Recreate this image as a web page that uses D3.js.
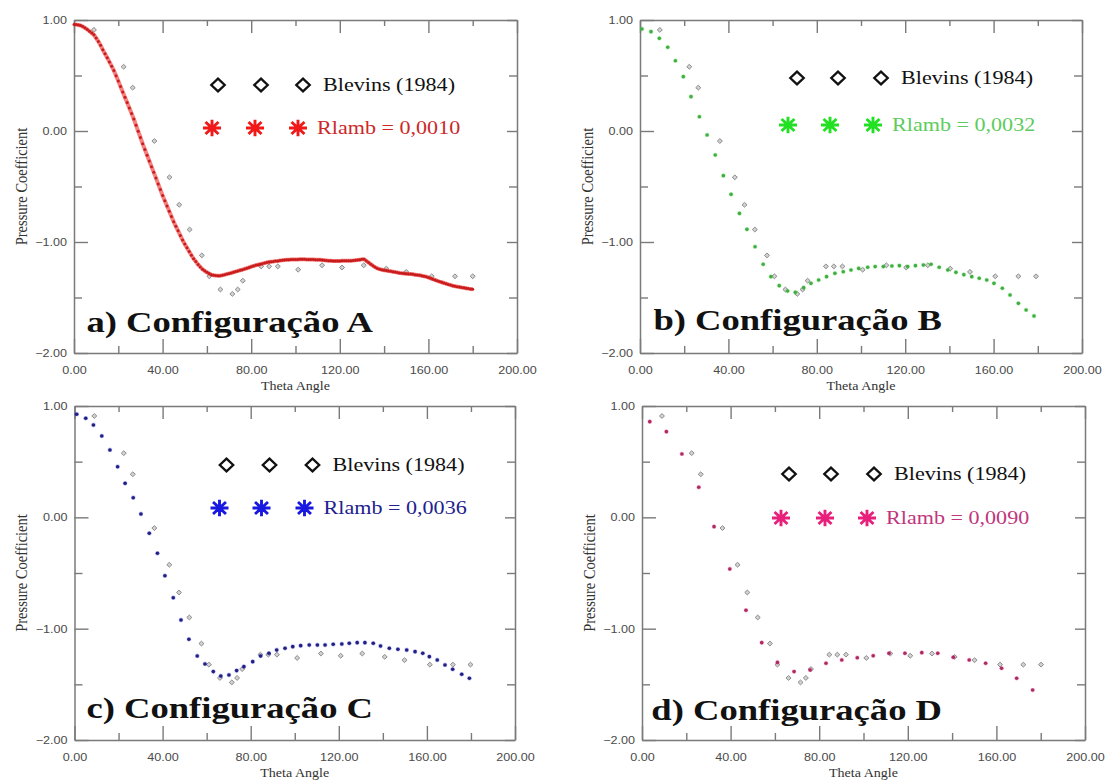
<!DOCTYPE html>
<html>
<head>
<meta charset="utf-8">
<script src="https://cdn.jsdelivr.net/npm/d3@7"></script>
<style>
  html, body { margin: 0; padding: 0; background: #ffffff; }
  svg { display: block; }
</style>
</head>
<body>
<svg id="chart" width="1105" height="783"></svg>
<script>
// ---- axis ticks ----
const xMajorTicks = [0, 40, 80, 120, 160, 200];
const xMinorTicks = [20, 60, 100, 140, 180];
const yMajorTicks = [1, 0, -1, -2];
const yMinorTicks = [0.5, -0.5, -1.5];

// ---- Blevins (1984) experimental pressure coefficient ----
const blevinsTheta = [9, 22.4, 26.5, 36.3, 43.1, 47.5, 52.2, 57.7, 61.1, 66.1, 71.5, 73.9, 76.2,
  84.5, 88.1, 92.0, 101.2, 112.0, 121.0, 130.8, 141.0, 150.0, 161.5, 172.0, 180.0];
const blevinsCp = [0.91, 0.575, 0.385, -0.10, -0.43, -0.68, -0.905, -1.14, -1.33, -1.45, -1.49, -1.45, -1.37,
  -1.24, -1.24, -1.24, -1.27, -1.23, -1.25, -1.23, -1.26, -1.29, -1.33, -1.33, -1.33];

// ---- Configuration A, Rlamb = 0,0010 (one node per degree) ----
const thetaA = d3.range(0, 181, 1);
const cpA = [
  0.960, 0.958, 0.955, 0.950, 0.940, 0.928, 0.914, 0.898, 0.882, 0.865,
  0.836, 0.805, 0.770, 0.730, 0.694, 0.657, 0.619, 0.580, 0.540, 0.493,
  0.445, 0.396, 0.345, 0.297, 0.249, 0.200, 0.150, 0.100, 0.044, -0.012,
  -0.068, -0.125, -0.177, -0.229, -0.281, -0.333, -0.385, -0.437, -0.490, -0.542,
  -0.595, -0.643, -0.691, -0.739, -0.787, -0.835, -0.876, -0.917, -0.958, -1.000,
  -1.036, -1.071, -1.105, -1.138, -1.170, -1.196, -1.222, -1.245, -1.265, -1.280,
  -1.294, -1.305, -1.315, -1.320, -1.323, -1.324, -1.324, -1.320, -1.315, -1.310,
  -1.305, -1.299, -1.293, -1.287, -1.281, -1.275, -1.270, -1.263, -1.257, -1.250,
  -1.243, -1.236, -1.230, -1.225, -1.220, -1.215, -1.210, -1.205, -1.200, -1.197,
  -1.195, -1.192, -1.190, -1.187, -1.185, -1.182, -1.180, -1.179, -1.178, -1.178,
  -1.177, -1.177, -1.176, -1.176, -1.176, -1.177, -1.177, -1.178, -1.178, -1.179,
  -1.180, -1.180, -1.182, -1.184, -1.186, -1.188, -1.189, -1.190, -1.190, -1.190,
  -1.190, -1.189, -1.189, -1.188, -1.188, -1.188, -1.187, -1.185, -1.182, -1.179,
  -1.176, -1.175, -1.190, -1.205, -1.220, -1.235, -1.248, -1.258, -1.265, -1.270,
  -1.275, -1.278, -1.282, -1.285, -1.288, -1.292, -1.296, -1.300, -1.302, -1.304,
  -1.306, -1.308, -1.310, -1.312, -1.315, -1.318, -1.321, -1.325, -1.329, -1.333,
  -1.341, -1.348, -1.356, -1.363, -1.371, -1.378, -1.384, -1.391, -1.397, -1.404,
  -1.410, -1.416, -1.420, -1.424, -1.428, -1.432, -1.435, -1.438, -1.442, -1.445,
  -1.448];

// ---- Configuration B, Rlamb = 0,0032 ----
const thetaB = [0.9, 5.0, 8.8, 12.6, 16.1, 19.7, 23.2, 27.0, 30.5, 34.2,
  37.9, 41.4, 45.2, 48.6, 52.3, 56.0, 59.5, 63.3, 67.1, 70.6,
  74.4, 77.7, 81.2, 84.8, 88.6, 92.4, 95.9, 99.4, 103.5, 106.9,
  110.6, 114.5, 117.9, 121.7, 125.2, 128.8, 132.3, 136.0, 139.9, 143.6,
  147.2, 150.8, 154.2, 157.6, 160.9, 164.7, 168.2, 172.0, 175.5, 179.1];
const cpB = [0.918, 0.894, 0.833, 0.752, 0.630, 0.485, 0.303, 0.121, -0.045, -0.227,
  -0.415, -0.585, -0.758, -0.903, -1.061, -1.221, -1.333, -1.415, -1.464, -1.476,
  -1.433, -1.394, -1.364, -1.333, -1.303, -1.288, -1.273, -1.258, -1.248, -1.242,
  -1.242, -1.236, -1.233, -1.242, -1.233, -1.227, -1.221, -1.248, -1.273, -1.294,
  -1.315, -1.333, -1.348, -1.364, -1.394, -1.439, -1.500, -1.576, -1.636, -1.691];

// ---- Configuration C, Rlamb = 0,0036 ----
const thetaC = [1.0, 5.1, 8.6, 12.4, 16.1, 19.6, 23.0, 26.7, 30.2, 34.0,
  37.7, 41.1, 44.9, 48.4, 52.0, 55.8, 59.3, 63.1, 66.5, 70.2,
  73.7, 77.0, 81.0, 84.6, 88.4, 91.9, 95.7, 99.2, 102.8, 106.7,
  110.4, 113.9, 117.6, 121.5, 124.9, 128.5, 132.0, 135.8, 139.1, 143.1,
  147.0, 151.0, 154.8, 158.3, 161.3, 164.9, 168.4, 171.9, 176.0, 179.5];
const cpC = [0.926, 0.889, 0.829, 0.730, 0.604, 0.453, 0.303, 0.174, 0.027, -0.147,
  -0.327, -0.529, -0.727, -0.928, -1.102, -1.252, -1.324, -1.393, -1.432, -1.423,
  -1.384, -1.348, -1.303, -1.252, -1.228, -1.198, -1.183, -1.168, -1.159, -1.153,
  -1.153, -1.153, -1.147, -1.144, -1.138, -1.132, -1.132, -1.138, -1.162, -1.183,
  -1.192, -1.198, -1.213, -1.228, -1.258, -1.288, -1.333, -1.372, -1.417, -1.453];

// ---- Configuration D, Rlamb = 0,0090 ----
const thetaD = [3.5, 11.0, 18.0, 25.6, 32.5, 39.6, 46.9, 54.0, 61.1, 68.6,
  75.8, 83.0, 90.1, 97.1, 104.3, 111.4, 118.6, 126.2, 133.4, 140.4,
  147.6, 155.0, 162.2, 169.0, 176.2];
const cpD = [0.859, 0.769, 0.568, 0.268, -0.087, -0.468, -0.840, -1.132, -1.310, -1.393,
  -1.378, -1.318, -1.288, -1.268, -1.250, -1.228, -1.228, -1.222, -1.228, -1.264,
  -1.288, -1.318, -1.363, -1.453, -1.559];

// ---- panel setup: frame, legend placement and colours ----
const panels = [
  { title: "a) Configuração A", series: "Rlamb = 0,0010", theta: thetaA, cp: cpA, style: "line",
    box: { left: 74, right: 517, top: 20, bottom: 353 }, xRange: [74, 517], yRange: [20, 350],
    legend: { dx: [144, 187, 229], dy: 65, sx: [138, 181, 224], sy: 108 },
    titleEnd: 373, titleBase: 332,
    star: "#f01818", text: "#cc2828", dot: "#c81c1c", line: "#ec2c2c" },
  { title: "b) Configuração B", series: "Rlamb = 0,0032", theta: thetaB, cp: cpB, style: "dots",
    box: { left: 640, right: 1082, top: 20, bottom: 353 }, xRange: [640, 1080], yRange: [20, 350],
    legend: { dx: [157, 198, 241], dy: 58, sx: [148, 190, 233], sy: 105 },
    titleEnd: 942, titleBase: 330,
    star: "#22e022", text: "#5ccc5c", dot: "#48a848", line: null },
  { title: "c) Configuração C", series: "Rlamb = 0,0036", theta: thetaC, cp: cpC, style: "dots",
    box: { left: 74.5, right: 515, top: 406, bottom: 740 }, xRange: [74.5, 514.5], yRange: [406, 739],
    legend: { dx: [152, 195, 238], dy: 59, sx: [145, 187, 230], sy: 102 },
    titleEnd: 373, titleBase: 718,
    star: "#1818e0", text: "#22228e", dot: "#22227a", line: null },
  { title: "d) Configuração D", series: "Rlamb = 0,0090", theta: thetaD, cp: cpD, style: "dots",
    box: { left: 642, right: 1085, top: 406, bottom: 740 }, xRange: [642, 1085.4], yRange: [406, 739],
    legend: { dx: [147, 189, 232], dy: 68, sx: [139, 183, 225], sy: 112 },
    titleEnd: 942, titleBase: 720,
    star: "#e8207c", text: "#c0367c", dot: "#a82c60", line: null }
];

const svg = d3.select("#chart");
const STRETCH = 1.2;           // glyphs are drawn slightly wide
const axisColor = "#7a7a7a";
const serif = "'Liberation Serif', 'Times New Roman', serif";
const fmt = d3.format(".2f");

const diamondPath = (r) => `M0,${-r}L${r * 1.05},0L0,${r}L${-r * 1.05},0Z`;
const starPath = (rx, ry) => {
  const dx = rx * 0.72, dy = ry * 0.72;
  return `M0,${-ry}L0,${ry}M${-rx},0L${rx},0M${-dx},${-dy}L${dx},${dy}M${-dx},${dy}L${dx},${-dy}`;
};

function widen(sel) {
  // move each label's x/y into a transform so it can be stretched about its anchor
  sel.each(function () {
    const t = d3.select(this);
    const x = +t.attr("x") || 0, y = +t.attr("y") || 0;
    t.attr("x", 0).attr("y", 0).attr("transform", `translate(${x},${y}) scale(${STRETCH},1)`);
  });
}

function styleAxis(g, showDomain) {
  g.selectAll(".domain").attr("stroke", showDomain ? axisColor : "none").attr("stroke-width", 1.5);
  g.selectAll(".tick line").attr("stroke", axisColor).attr("stroke-width", 1.4);
  g.selectAll(".tick text")
    .attr("fill", "#4a4a4a")
    .attr("font-family", "'Liberation Sans', Arial, sans-serif")
    .attr("font-size", 10.5);
}

panels.forEach(p => {
  const b = p.box;
  const x = d3.scaleLinear().domain([0, 200]).range(p.xRange);
  const y = d3.scaleLinear().domain([1, -2]).range([p.yRange[0], p.yRange[1]]);
  // frame scales span the full box for ticks & labels
  const xf = d3.scaleLinear().domain([0, 200]).range([b.left, b.right]);
  const yf = d3.scaleLinear().domain([1, -2]).range([b.top, b.bottom]);

  const g = svg.append("g");

  // bottom axis: major ticks with labels, then minor ticks
  const gb = g.append("g").attr("transform", `translate(0,${b.bottom})`)
    .call(d3.axisBottom(xf).tickValues(xMajorTicks).tickFormat(fmt).tickSize(-14).tickSizeOuter(0).tickPadding(13.5));
  styleAxis(gb, true);
  widen(gb.selectAll(".tick text"));
  const gbm = g.append("g").attr("transform", `translate(0,${b.bottom})`)
    .call(d3.axisBottom(xf).tickValues(xMinorTicks).tickFormat("").tickSize(-7).tickSizeOuter(0));
  styleAxis(gbm, false);

  // top border
  const gt = g.append("g").attr("transform", `translate(0,${b.top})`)
    .call(d3.axisTop(xf).tickValues(xMajorTicks).tickFormat("").tickSize(-13).tickSizeOuter(0));
  styleAxis(gt, true);
  const gtm = g.append("g").attr("transform", `translate(0,${b.top})`)
    .call(d3.axisTop(xf).tickValues(xMinorTicks).tickFormat("").tickSize(-6).tickSizeOuter(0));
  styleAxis(gtm, false);

  // left axis
  const gl = g.append("g").attr("transform", `translate(${b.left},0)`)
    .call(d3.axisLeft(yf).tickValues(yMajorTicks).tickFormat(fmt).tickSize(-14).tickSizeOuter(0).tickPadding(7));
  styleAxis(gl, true);
  widen(gl.selectAll(".tick text"));
  const glm = g.append("g").attr("transform", `translate(${b.left},0)`)
    .call(d3.axisLeft(yf).tickValues(yMinorTicks).tickFormat("").tickSize(-8).tickSizeOuter(0));
  styleAxis(glm, false);

  // right border
  const gr = g.append("g").attr("transform", `translate(${b.right},0)`)
    .call(d3.axisRight(yf).tickValues(yMajorTicks).tickFormat("").tickSize(-10).tickSizeOuter(0));
  styleAxis(gr, true);
  const grm = g.append("g").attr("transform", `translate(${b.right},0)`)
    .call(d3.axisRight(yf).tickValues(yMinorTicks).tickFormat("").tickSize(-8).tickSizeOuter(0));
  styleAxis(grm, false);

  // axis titles
  g.append("text")
    .attr("transform", `translate(${(b.left + b.right) / 2},${b.bottom + 37}) scale(${STRETCH},1)`)
    .attr("text-anchor", "middle")
    .attr("font-family", serif)
    .attr("font-size", 11.7).attr("fill", "#333")
    .text("Theta Angle");
  g.append("text")
    .attr("transform", `translate(${b.left - 47.5},${(b.top + b.bottom) / 2}) scale(${STRETCH},1) rotate(-90)`)
    .attr("text-anchor", "middle")
    .attr("font-family", serif)
    .attr("font-size", 14.5).attr("fill", "#333")
    .text("Pressure Coefficient");

  const pts = p.theta.map((t, i) => ({ t, c: p.cp[i] }));
  const exp = blevinsTheta.map((t, i) => ({ t, c: blevinsCp[i] }));

  // Blevins (1984) measurements
  g.append("g").selectAll("path").data(exp).join("path")
    .attr("transform", d => `translate(${x(d.t)},${y(d.c)})`)
    .attr("d", diamondPath(2.4))
    .attr("fill", "#d2d2d2").attr("stroke", "#8c8c8c").attr("stroke-width", 1);

  // numerical results
  if (p.style === "line") {
    g.append("path").datum(pts)
      .attr("d", d3.line().x(d => x(d.t)).y(d => y(d.c)))
      .attr("fill", "none").attr("stroke", p.line).attr("stroke-width", 4)
      .attr("stroke-opacity", 0.6).attr("stroke-linejoin", "round");
    g.append("g").selectAll("circle").data(pts).join("circle")
      .attr("cx", d => x(d.t)).attr("cy", d => y(d.c)).attr("r", 1.5)
      .attr("fill", p.dot);
  } else {
    g.append("g").selectAll("circle").data(pts).join("circle")
      .attr("cx", d => x(d.t)).attr("cy", d => y(d.c)).attr("r", 1.8)
      .attr("fill", p.dot).attr("stroke", p.star).attr("stroke-opacity", 0.25).attr("stroke-width", 1.2);
  }

  // legend
  const L = p.legend;
  const lg = g.append("g").attr("transform", `translate(${b.left},${b.top})`);
  lg.selectAll("path.dia").data(L.dx).join("path").attr("class", "dia")
    .attr("transform", d => `translate(${d},${L.dy})`)
    .attr("d", diamondPath(6.4))
    .attr("fill", "#fff").attr("stroke", "#111").attr("stroke-width", 2.3);
  lg.append("text")
    .attr("transform", `translate(${L.dx[2] + 20},${L.dy + 6}) scale(${STRETCH * 0.97},1)`)
    .attr("font-family", serif)
    .attr("font-size", 19).attr("fill", "#111")
    .text("Blevins (1984)");
  lg.selectAll("path.star").data(L.sx).join("path").attr("class", "star")
    .attr("transform", d => `translate(${d},${L.sy})`)
    .attr("d", starPath(9, 8.3))
    .attr("fill", "none").attr("stroke", p.star).attr("stroke-width", 2.9);
  lg.append("text")
    .attr("transform", `translate(${L.sx[2] + 19},${L.sy + 6}) scale(${STRETCH * 0.97},1)`)
    .attr("font-family", serif)
    .attr("font-size", 19).attr("fill", p.text)
    .text(p.series);

  // panel title
  g.append("text")
    .attr("transform", `translate(${p.titleEnd},${p.titleBase}) scale(${STRETCH},1)`)
    .attr("text-anchor", "end")
    .attr("font-family", serif)
    .attr("font-weight", "bold").attr("font-size", 30.5).attr("fill", "#111")
    .text(p.title);
});
</script>
</body>
</html>
